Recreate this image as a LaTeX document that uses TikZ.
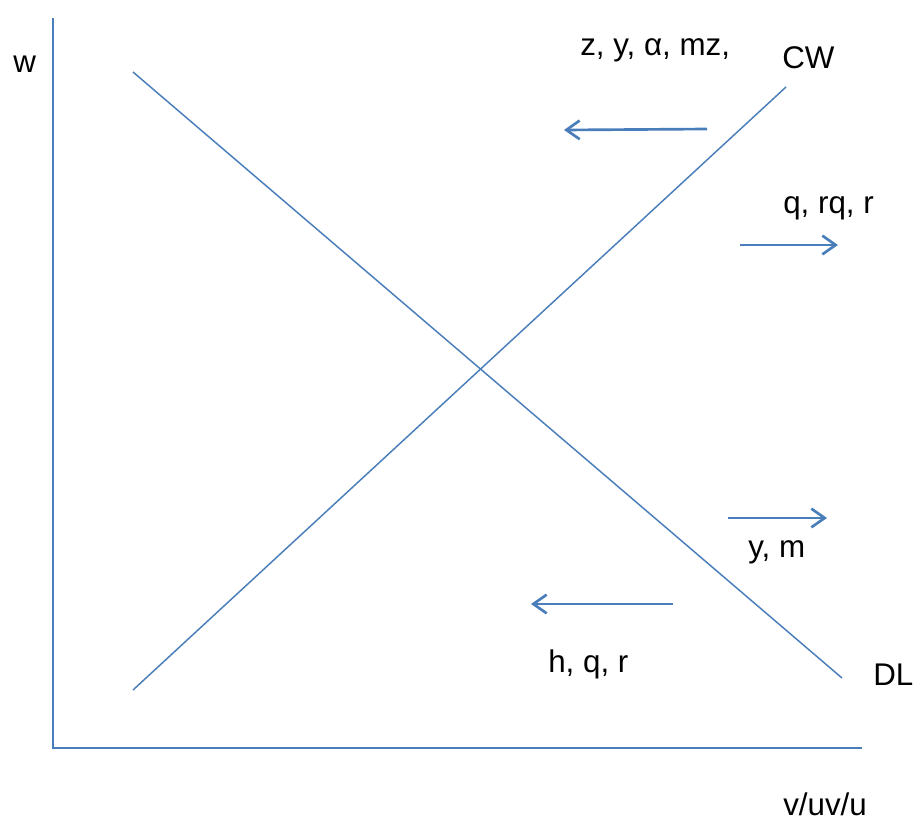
\documentclass[tikz,border=0pt]{standalone}
\usepackage{fontspec}
\setmainfont{Liberation Sans}
\usetikzlibrary{arrows.meta}
\definecolor{lineblue}{HTML}{4A7EBB}
\tikzset{
  axisline/.style={draw=lineblue, line width=1.8pt},
  curve/.style={draw=lineblue, line width=1.1pt},
  shiftarrow/.style={draw=lineblue, line width=2pt, -{Straight Barb[length=10pt,width=14pt,line width=2pt]}},
  lbl/.style={inner sep=0pt, anchor=base west, font=\fontsize{23.5pt}{28pt}\selectfont, text=black}
}
\begin{document}
\begin{tikzpicture}[x=0.75pt,y=-0.75pt]
\useasboundingbox (0,0) rectangle (914,821);
% axes
\coordinate (ytop) at (53,18);
\coordinate (origin) at (53,748);
\coordinate (xend) at (862,748);
\draw[axisline] (ytop) -- (origin) -- (xend);
% curves
\coordinate (cwA) at (133,690);
\coordinate (cwB) at (786,87);
\coordinate (dlA) at (133,72);
\coordinate (dlB) at (842,678);
\draw[curve] (cwA) -- (cwB);
\draw[curve] (dlA) -- (dlB);
% arrows
\coordinate (a1s) at (707,129); \coordinate (a1e) at (564,130);
\coordinate (a2s) at (740,245); \coordinate (a2e) at (838,245);
\coordinate (a3s) at (728,518); \coordinate (a3e) at (827,518);
\coordinate (a4s) at (673,604); \coordinate (a4e) at (531,604);
\draw[shiftarrow] (a1s) -- (a1e);
\draw[shiftarrow] (a2s) -- (a2e);
\draw[shiftarrow] (a3s) -- (a3e);
\draw[shiftarrow] (a4s) -- (a4e);
% labels
\node[lbl] (w) at (13,72) {w};
\node[lbl] (top) at (580,55) {z, y, α, mz,};
\node[lbl] (cw) at (782,68) {CW};
\node[lbl] (qrq) at (783,213) {q, rq, r};
\node[lbl] (ym) at (748,557) {y, m};
\node[lbl] (dl) at (873,685) {DL};
\node[lbl] (hqr) at (548,672) {h, q, r};
\node[lbl] (vuv) at (783,815) {v/uv/u};
\end{tikzpicture}
\end{document}
